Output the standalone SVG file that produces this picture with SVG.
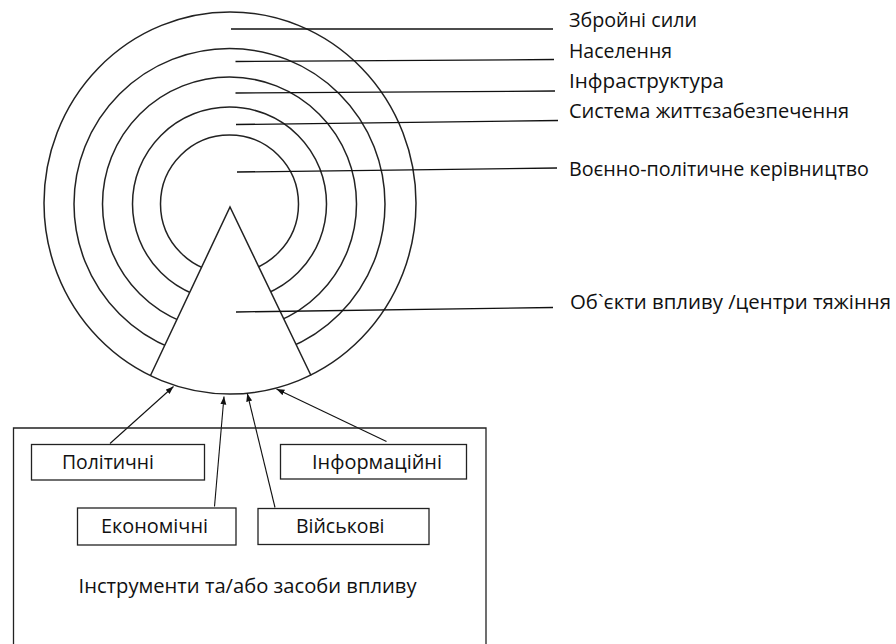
<svg xmlns="http://www.w3.org/2000/svg" width="896" height="644" viewBox="0 0 896 644">
<defs>
<marker id="ah" markerWidth="9" markerHeight="7" refX="8" refY="3" orient="auto" markerUnits="userSpaceOnUse">
<path d="M0,0 L8,3 L0,6 Z" fill="#111"/>
</marker>
<style>
.ring{fill:none;stroke:#222;stroke-width:1.5}
.lead{fill:none;stroke:#111;stroke-width:1.3}
.box{fill:#fff;stroke:#222;stroke-width:1.3}
.arr{fill:none;stroke:#111;stroke-width:1.1;marker-end:url(#ah)}
.t{font-family:"Open Sans","Noto Sans",sans-serif;font-size:20px;fill:#111}
</style>
</defs>
<rect width="896" height="644" fill="#fff"/>
<g id="target">
<circle class="ring" cx="229.5" cy="204" r="155.5"/>
<circle class="ring" cx="229.5" cy="204" r="127"/>
<circle class="ring" cx="229.5" cy="204" r="97"/>
<circle class="ring" cx="229.5" cy="204" r="69"/>
<path d="M150.5,375.5 L230,207 L311,375.5 A186,191 0 0 1 150.5,375.5 Z" fill="#fff" stroke="none"/>
<polyline class="ring" points="150.5,375.5 230,207 311,375.5"/>
<ellipse class="ring" cx="230" cy="203" rx="186" ry="191"/>
</g>
<g id="connectors">
<line class="lead" x1="231" y1="29" x2="553" y2="29"/>
<line class="lead" x1="235.5" y1="61.5" x2="554" y2="59.5"/>
<line class="lead" x1="235.5" y1="93" x2="555" y2="91"/>
<line class="lead" x1="236" y1="124.5" x2="558" y2="120.5"/>
<line class="lead" x1="237" y1="172" x2="557" y2="168"/>
<line class="lead" x1="236" y1="312" x2="553" y2="307.5"/>
<line class="arr" x1="110" y1="443.5" x2="173.5" y2="386.5"/>
<line class="arr" x1="214.5" y1="506.5" x2="224" y2="396.5"/>
<line class="arr" x1="275" y1="507.5" x2="247.3" y2="393.5"/>
<line class="arr" x1="386.5" y1="441.5" x2="276.5" y2="389"/>
</g>
<g id="labels">
<text class="t" x="569" y="27" textLength="128" lengthAdjust="spacingAndGlyphs">Збройні сили</text>
<text class="t" x="569" y="58" textLength="103" lengthAdjust="spacingAndGlyphs">Населення</text>
<text class="t" x="569" y="88" textLength="155" lengthAdjust="spacingAndGlyphs">Інфраструктура</text>
<text class="t" x="569" y="118" textLength="280" lengthAdjust="spacingAndGlyphs">Система життєзабезпечення</text>
<text class="t" x="569" y="176" textLength="300" lengthAdjust="spacingAndGlyphs">Воєнно-політичне керівництво</text>
<text class="t" x="570" y="309" textLength="321" lengthAdjust="spacingAndGlyphs">Об`єкти впливу /центри тяжіння</text>
</g>
<g id="tools">
<path d="M13.5,650 L13.5,428 L486,428 L486,650" fill="none" stroke="#222" stroke-width="1.3"/>
<text class="t" x="78.5" y="593" textLength="338" lengthAdjust="spacingAndGlyphs">Інструменти та/або засоби впливу</text>
</g>
<g id="political">
<rect class="box" x="31.5" y="444.5" width="173" height="35.5"/>
<text class="t" x="62" y="469" textLength="92" lengthAdjust="spacingAndGlyphs">Політичні</text>
</g>
<g id="informational">
<rect class="box" x="280.5" y="444.5" width="186" height="34.5"/>
<text class="t" x="312" y="469" textLength="130" lengthAdjust="spacingAndGlyphs">Інформаційні</text>
</g>
<g id="economic">
<rect class="box" x="77.5" y="508" width="158.5" height="37"/>
<text class="t" x="101" y="533" textLength="107" lengthAdjust="spacingAndGlyphs">Економічні</text>
</g>
<g id="military">
<rect class="box" x="258" y="508.5" width="171" height="36"/>
<text class="t" x="296" y="533" textLength="88.5" lengthAdjust="spacingAndGlyphs">Військові</text>
</g>
</svg>
